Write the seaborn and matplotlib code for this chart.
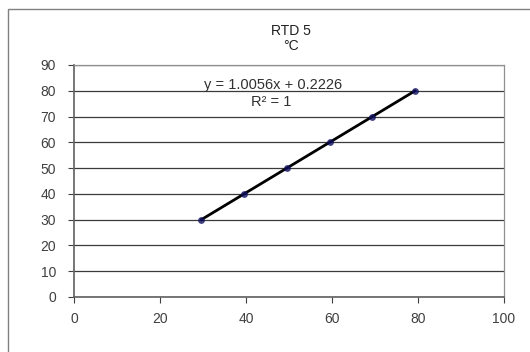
import matplotlib
matplotlib.use("Agg")
import matplotlib.pyplot as plt
import seaborn as sns
import pandas as pd
from matplotlib.patches import Rectangle

measured = [29.6, 39.56, 49.5, 59.45, 69.39, 79.33]
reference = [30, 40, 50, 60, 70, 80]
x_ticks = [0, 20, 40, 60, 80, 100]
y_ticks = [0, 10, 20, 30, 40, 50, 60, 70, 80, 90]
title = "RTD 5\n°C"
equation = "y = 1.0056x + 0.2226"
r2_text = "R² = 1"

df = pd.DataFrame({"measured": measured, "reference": reference})

sns.set_style("white")
plt.rcParams["font.family"] = ["Liberation Sans", "DejaVu Sans"]

fig = plt.figure(figsize=(5.3, 3.52), dpi=100)
W, H = 530, 352
ax = fig.add_axes([74 / W, 1 - 297 / H, (504 - 74) / W, (297 - 65) / H])

# outer chart border
fig.patches.append(Rectangle((8 / W, -0.1), 1.2, 1 - 9 / H + 0.1, transform=fig.transFigure,
                             fill=False, edgecolor="#808080", linewidth=1.0))

ax.set_axisbelow(True)
ax.grid(axis="y", color="#3a3a3a", linewidth=0.9)
sns.regplot(data=df, x="measured", y="reference", ax=ax, ci=None,
            scatter_kws=dict(marker="D", s=24, color="#101060", zorder=4, linewidths=0),
            line_kws=dict(color="black", linewidth=2.0, zorder=3))

ax.set_xlim(0, 100)
ax.set_ylim(0, 90)
ax.set_xticks(x_ticks)
ax.set_yticks(y_ticks)
ax.set_xlabel("")
ax.set_ylabel("")
ax.tick_params(axis="both", labelsize=10, colors="#404040", length=4, width=0.8,
               direction="out", left=True, bottom=True)
ax.tick_params(axis="y", pad=9)
ax.tick_params(axis="x", pad=7)
for s in ["left", "bottom"]:
    ax.spines[s].set_color("#606060")
    ax.spines[s].set_linewidth(1.2)
for s in ["top", "right"]:
    ax.spines[s].set_color("#909090")
    ax.spines[s].set_linewidth(0.9)

fig.text(291 / W, 1 - 38.5 / H, title, ha="center", va="center", fontsize=10,
         color="#202020", linespacing=1.15)
ax.text(46.3, 82.4, equation, ha="center", va="center", fontsize=10.5, color="#303030")
ax.text(45.8, 75.6, r2_text, ha="center", va="center", fontsize=10.5, color="#303030")

fig.savefig("out.png", dpi=100)
